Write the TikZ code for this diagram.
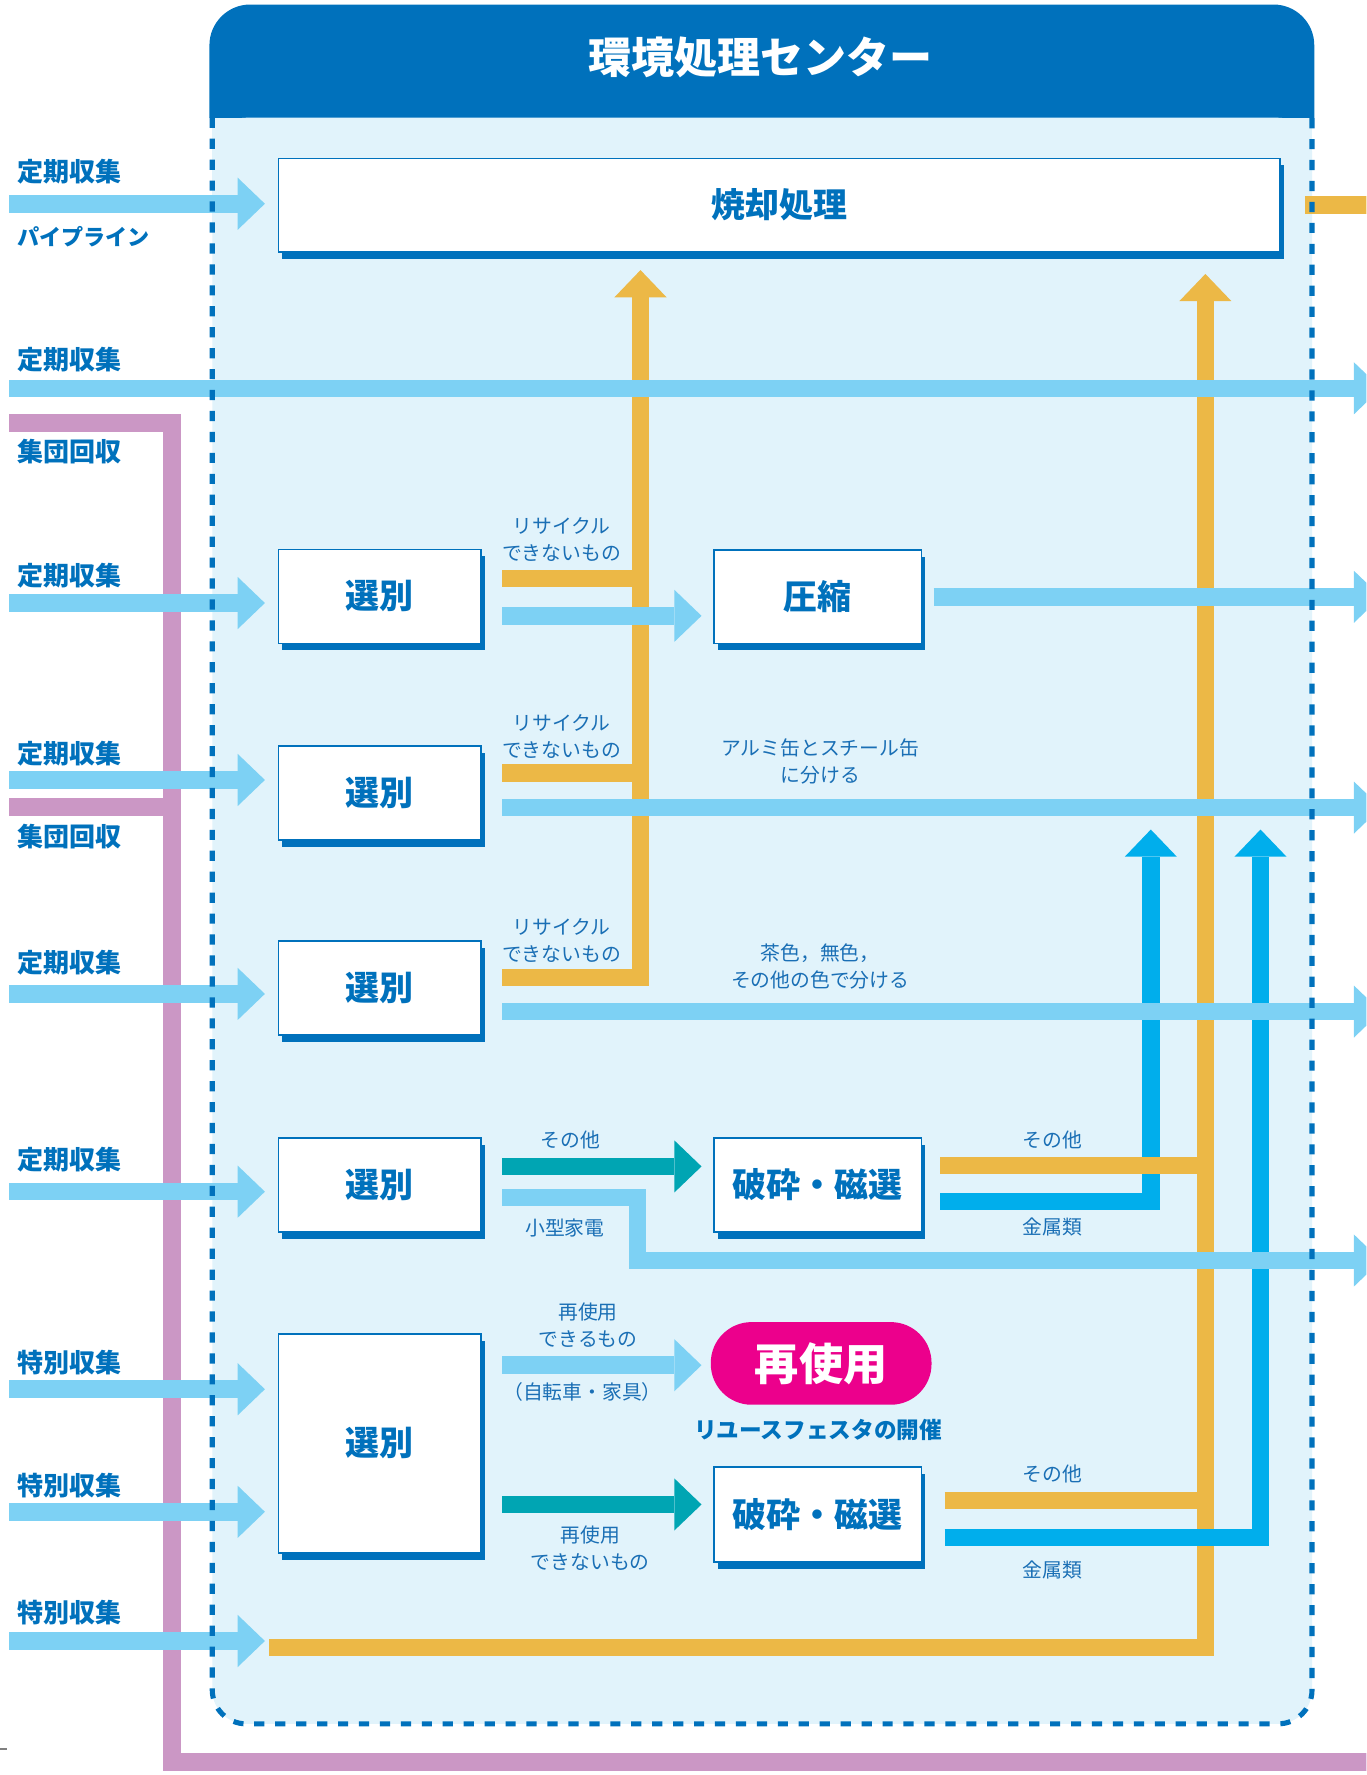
\documentclass[tikz,border=0pt]{standalone}
\usepackage{fontspec}
\setmainfont{Noto Sans CJK JP}
\usetikzlibrary{arrows.meta,shadows}
\definecolor{dkblue}{HTML}{0071BC}
\definecolor{panelbg}{HTML}{E1F3FB}
\definecolor{lblue}{HTML}{7DD1F4}
\definecolor{yell}{HTML}{ECB846}
\definecolor{pinkc}{HTML}{CB97C5}
\definecolor{tealc}{HTML}{00A5B3}
\definecolor{cyanc}{HTML}{00AEEC}
\definecolor{magc}{HTML}{EC008C}
\definecolor{txtblue}{HTML}{1A6FB5}
\tikzset{
  band/.style={line width=15.5pt, line cap=butt, line join=miter},
  lbband/.style={band, draw=lblue},
  tipr/.style={-{Triangle[length=24pt,width=46pt,line width=0pt]}},
  boxst/.style={draw=dkblue, line width=1.5pt, fill=white, inner sep=0pt,
    font=\fontsize{30}{30}\selectfont\bfseries, text=dkblue,
    drop shadow={shadow xshift=3pt, shadow yshift=-6pt, fill=dkblue, opacity=1}},
  srclbl/.style={anchor=west, font=\fontsize{23}{26}\selectfont\bfseries, text=dkblue, inner sep=0pt},
  flowlbl/.style={font=\fontsize{17.5}{24}\selectfont, text=txtblue, align=center, inner sep=0pt},
  dashborder/.style={draw=dkblue, line width=4.5pt, dash pattern=on 9pt off 9.5pt},
}
\begin{document}
\begin{tikzpicture}[x=1pt,y=-1pt]
\useasboundingbox (0,0) rectangle (1207,1568);
\clip (0,0) rectangle (1207,1568);
% header and panel
\fill[dkblue, rounded corners=36pt] (185,4) rectangle (1161,150);
\fill[white] (180,104) rectangle (1166,160);
\fill[panelbg, rounded corners=30pt] (187.5,104) rectangle (1159,1522.8);
\fill[panelbg] (187.5,104) rectangle (1159,200);
\node[font=\fontsize{38}{38}\selectfont\bfseries, text=white, inner sep=0pt] (title) at (672,51) {環境処理センター};
% pink
\draw[band, draw=pinkc] (8,373.7) -- (151.8,373.7) -- (151.8,1556.7) -- (1215,1556.7);
\draw[band, draw=pinkc] (8,713) -- (151.8,713);
% yellow
\draw[band, draw=yell, tipr] (443.6,863.3) -- (565.8,863.3) -- (565.8,238.6);
\draw[band, draw=yell] (443.6,511) -- (573.4,511);
\draw[band, draw=yell] (443.6,683) -- (573.4,683);
\draw[band, draw=yell, tipr] (238,1455.3) -- (1064.8,1455.3) -- (1064.8,242);
\draw[band, draw=yell] (1153,181) -- (1215,181);
% cyan
\draw[band, draw=cyanc, tipr] (830.6,1061.3) -- (1016.6,1061.3) -- (1016.6,732.8);
\draw[band, draw=cyanc, tipr] (834.5,1358.2) -- (1113.5,1358.2) -- (1113.5,732.8);
% yellow others
\draw[band, draw=yell] (830.6,1029.4) -- (1072.6,1029.4);
\draw[band, draw=yell] (834.5,1325.3) -- (1072.6,1325.3);
% teal
\draw[band, draw=tealc, tipr] (443.6,1030.4) -- (619.7,1030.4);
\draw[band, draw=tealc, tipr] (443.6,1329) -- (619.7,1329);
% light blue
\draw[lbband, tipr] (8,180) -- (234,180);
\draw[lbband, tipr] (8,343) -- (1220,343);
\draw[lbband, tipr] (8,532.7) -- (234,532.7);
\draw[lbband, tipr] (443.6,544) -- (619.7,544);
\draw[lbband, tipr] (824.7,527.2) -- (1220,527.2);
\draw[lbband, tipr] (8,689) -- (234,689);
\draw[lbband, tipr] (443.6,713.4) -- (1220,713.4);
\draw[lbband, tipr] (8,878) -- (234,878);
\draw[lbband, tipr] (443.6,893.6) -- (1220,893.6);
\draw[lbband, tipr] (8,1052.7) -- (234,1052.7);
\draw[lbband, tipr] (443.6,1058) -- (563,1058) -- (563,1113.5) -- (1220,1113.5);
\draw[lbband, tipr] (8,1227.2) -- (234,1227.2);
\draw[lbband, tipr] (443.6,1206) -- (619.7,1206);
\draw[lbband, tipr] (8,1335.5) -- (234,1335.5);
\draw[lbband, tipr] (8,1449.6) -- (234,1449.6);
% boxes
\node[boxst, minimum width=885pt, minimum height=82.4pt] (burn) at (688.5,181.2) {焼却処理};
\node[boxst, minimum width=179pt, minimum height=83pt] (sel1) at (335.5,526.9) {選別};
\node[boxst, minimum width=183pt, minimum height=82.4pt] (comp) at (722.5,527.2) {圧縮};
\node[boxst, minimum width=179pt, minimum height=83pt] (sel2) at (335.5,700.7) {選別};
\node[boxst, minimum width=179pt, minimum height=83pt] (sel3) at (335.5,873) {選別};
\node[boxst, minimum width=179pt, minimum height=83pt] (sel4) at (335.5,1046.8) {選別};
\node[boxst, minimum width=183pt, minimum height=83pt] (crush1) at (722.5,1046.8) {破砕・磁選};
\node[boxst, minimum width=179pt, minimum height=193.8pt] (sel5) at (335.5,1275.1) {選別};
\node[boxst, minimum width=183pt, minimum height=84pt] (crush2) at (722.5,1338) {破砕・磁選};
\node[fill=magc, rounded corners=36pt, minimum width=195pt, minimum height=73pt, inner sep=0pt,
  text=white, font=\fontsize{39}{39}\selectfont\bfseries] (reuse) at (725.4,1204.4) {再使用};
\node[font=\fontsize{20}{20}\selectfont\bfseries, text=dkblue, inner sep=0pt] (fes) at (722.6,1263.5) {リユースフェスタの開催};
% source labels
\node[srclbl] (s1) at (15,152) {定期収集};
\node[srclbl, font=\fontsize{19.5}{26}\selectfont\bfseries] (p1) at (15,209) {パイプライン};
\node[srclbl] (s2) at (15,317.5) {定期収集};
\node[srclbl] (g1) at (15,399) {集団回収};
\node[srclbl] (s3) at (15,508.5) {定期収集};
\node[srclbl] (s4) at (15,665.7) {定期収集};
\node[srclbl] (g2) at (15,739) {集団回収};
\node[srclbl] (s5) at (15,850.5) {定期収集};
\node[srclbl] (s6) at (15,1024) {定期収集};
\node[srclbl] (t1) at (15,1204) {特別収集};
\node[srclbl] (t2) at (15,1312) {特別収集};
\node[srclbl] (t3) at (15,1424.9) {特別収集};
% flow labels
\node[flowlbl] (r1) at (496,476.8) {リサイクル\\できないもの};
\node[flowlbl] (r2) at (496,650.5) {リサイクル\\できないもの};
\node[flowlbl] (r3) at (496,830.8) {リサイクル\\できないもの};
\node[flowlbl] (alu) at (724.6,672.5) {アルミ缶とスチール缶\\に分ける};
\node[flowlbl] (glass) at (724.5,853.5) {茶色，無色，\\その他の色で分ける};
\node[flowlbl] (o1) at (504,1007) {その他};
\node[flowlbl] (sm) at (499,1084.7) {小型家電};
\node[flowlbl] (o2) at (929.8,1007) {その他};
\node[flowlbl] (m1) at (929.8,1084) {金属類};
\node[flowlbl] (ru1) at (519.5,1170.5) {再使用\\できるもの};
\node[flowlbl] (bike) at (514.6,1230) {（自転車・家具）};
\node[flowlbl] (ru2) at (521.4,1367.5) {再使用\\できないもの};
\node[flowlbl] (o3) at (929.8,1302) {その他};
\node[flowlbl] (m2) at (929.8,1387.3) {金属類};
% dashed border
\draw[dashborder, rounded corners=30pt] (187.5,104) -- (187.5,1522.8) -- (1159,1522.8) -- (1159,104);
\draw[gray, line width=1pt] (0,1545) -- (6,1545);
\end{tikzpicture}
\end{document}
